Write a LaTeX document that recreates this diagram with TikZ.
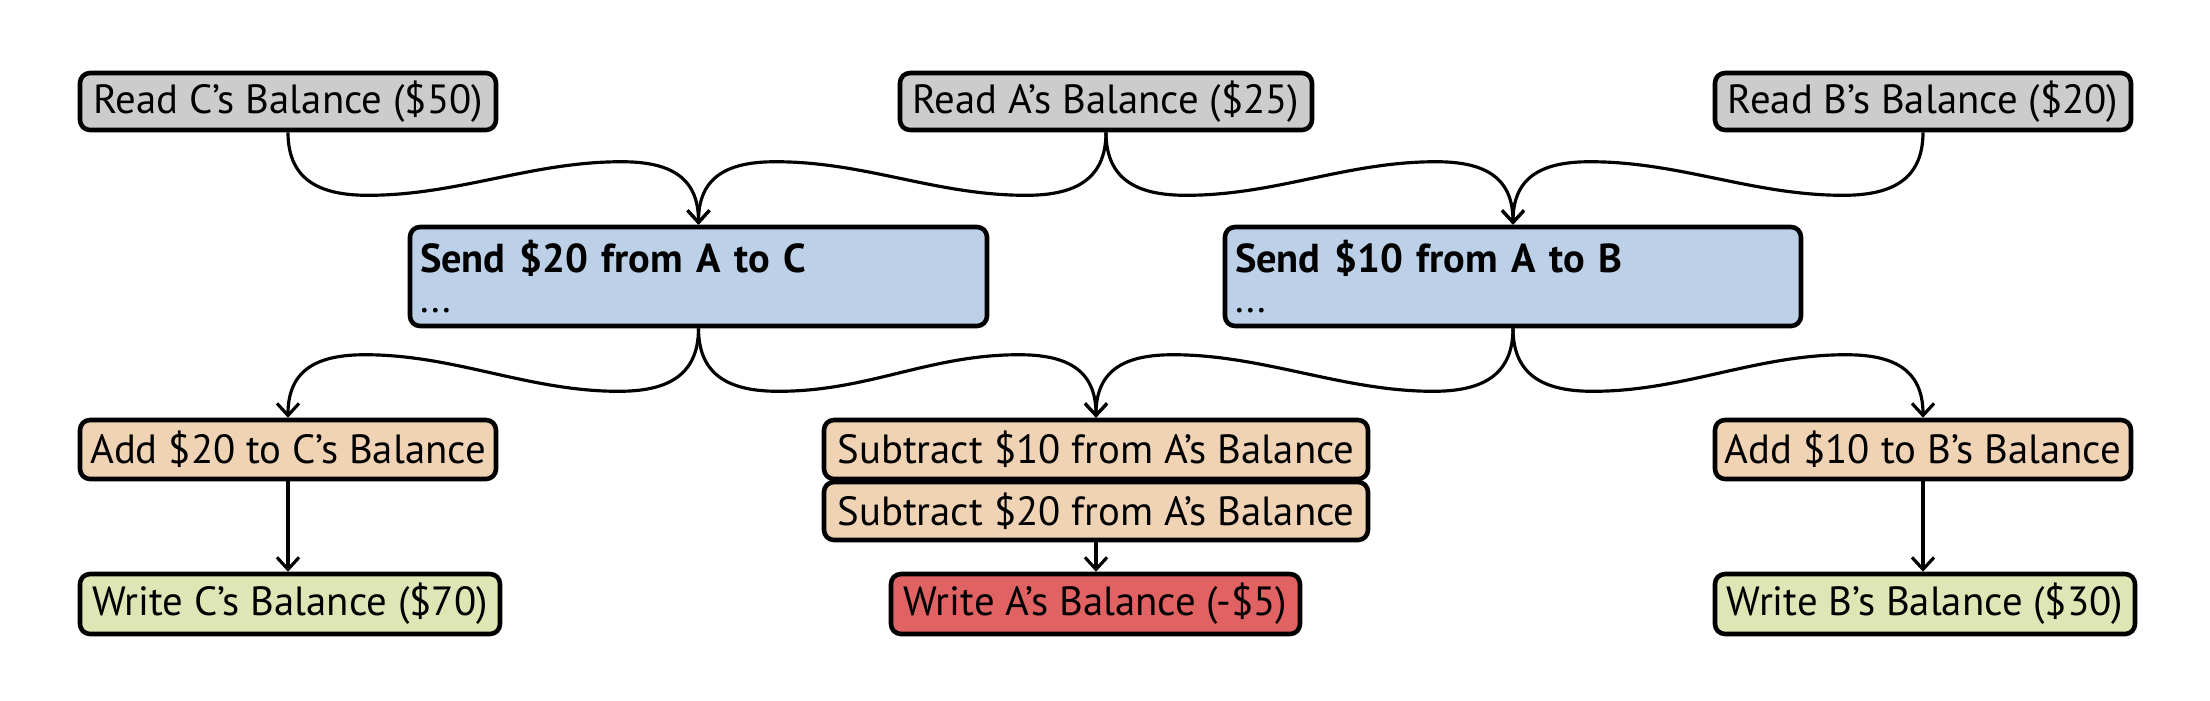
\documentclass[tikz,border=0pt]{standalone}
\usepackage{fontspec}
\setmainfont{PT Sans}
\usetikzlibrary{calc,arrows.meta}
\definecolor{readgray}{RGB}{204,204,204}
\definecolor{sendblue}{RGB}{188,209,232}
\definecolor{steppeach}{RGB}{240,211,181}
\definecolor{writegreen}{RGB}{221,230,180}
\definecolor{failred}{RGB}{224,98,98}
\tikzset{
    box/.style={draw, line width=1.3pt, rounded corners=1mm, inner sep=1pt,
      minimum height=0.57cm, font=\fontsize{11.6}{14}\selectfont},
    readbox/.style={box, fill=readgray},
    sendbox/.style={box, fill=sendblue, minimum height=0.99cm, align=left,
      text width=#1, font=\fontsize{11.5}{11.5}\selectfont},
    stepbox/.style={box, fill=steppeach},
    writebox/.style={box, fill=writegreen},
    failbox/.style={box, fill=failred},
    edge/.style={line width=0.9pt, -{Straight Barb[length=1.2mm,width=2.2mm]}},
  }
% #1 source, #2 target, #3 = 1 (to the right) or -1 (to the left)
\newcommand{\flow}[3]{%
  \draw[edge] (#1.south) .. controls +(0,-0.5) and +(-#3*0.45,0) ..
    ($(#1.south)+(#3*0.8,-0.63)$) .. controls +(#3*0.9,0) and +(-#3*0.9,0) ..
    ($(#2.north)+(-#3*0.77,0.63)$) .. controls +(#3*0.45,0) and +(0,0.5) .. (#2.north);
}

\begin{document}
\begin{tikzpicture}
				  \useasboundingbox (0,0) rectangle (22.1,-7);
				  %reads
				  \node[readbox, minimum width=4.16cm] (readC) at (2.88,-1.015) {Read C’s Balance (\$50)};
				  \node[readbox, minimum width=4.12cm] (readA) at (11.06,-1.015) {Read A’s Balance (\$25)};
				  \node[readbox, minimum width=4.16cm] (readB) at (19.23,-1.015) {Read B’s Balance (\$20)};
				  %transfers
				  \node[sendbox=5.57cm, minimum width=5.77cm] (sendC) at (6.985,-2.765) {\textbf{Send \$20 from A to C}\\...};
				  \node[sendbox=5.56cm, minimum width=5.76cm] (sendB) at (15.13,-2.765) {\textbf{Send \$10 from A to B}\\...};
				  %steps
				  \node[stepbox, minimum width=4.16cm, minimum height=0.59cm] (addC) at (2.88,-4.495) {Add \$20 to C’s Balance};
				  \node[stepbox, minimum width=5.44cm, minimum height=0.59cm] (subA10) at (10.96,-4.495) {Subtract \$10 from A’s Balance};
				  \node[stepbox, minimum width=4.16cm, minimum height=0.59cm] (addB) at (19.23,-4.495) {Add \$10 to B’s Balance};
				  \node[stepbox, minimum width=5.44cm, minimum height=0.58cm] (subA20) at (10.96,-5.11) {Subtract \$20 from A’s Balance};
				  %writes
				  \node[writebox, minimum width=4.2cm, minimum height=0.6cm] (writeC) at (2.9,-6.04) {Write C’s Balance (\$70)};
				  \node[failbox, minimum width=4.09cm, minimum height=0.6cm] (writeA) at (10.955,-6.04) {Write A’s Balance (-\$5)};
				  \node[writebox, minimum width=4.2cm, minimum height=0.6cm] (writeB) at (19.25,-6.04) {Write B’s Balance (\$30)};
				  \flow{readC}{sendC}{1}
				  \flow{readA}{sendC}{-1}
				  \flow{readA}{sendB}{1}
				  \flow{readB}{sendB}{-1}
				  \flow{sendC}{addC}{-1}
				  \flow{sendC}{subA10}{1}
				  \flow{sendB}{subA10}{-1}
				  \flow{sendB}{addB}{1}
				  \draw[edge] (addC.south) -- (addC.south |- writeC.north);
				  \draw[edge] (subA20.south) -- (subA20.south |- writeA.north);
				  \draw[edge] (addB.south) -- (addB.south |- writeB.north);
				  \end{tikzpicture}
\end{document}
